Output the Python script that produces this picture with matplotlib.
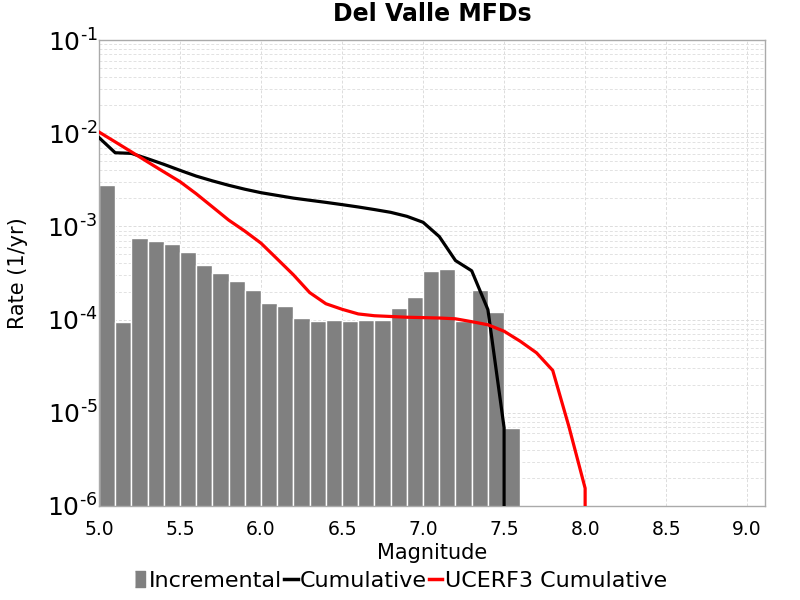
import numpy as np
import matplotlib
matplotlib.use("Agg")
import matplotlib.pyplot as plt
from matplotlib.lines import Line2D
from matplotlib.ticker import LogLocator, FuncFormatter, MultipleLocator

# incremental MFD (bin centres and rates)
mags = [5.05, 5.15, 5.25, 5.35, 5.45, 5.55, 5.65, 5.75, 5.85, 5.95,
        6.05, 6.15, 6.25, 6.35, 6.45, 6.55, 6.65, 6.75, 6.85, 6.95,
        7.05, 7.15, 7.25, 7.35, 7.45, 7.55]
incr = [2.8e-3, 9.4e-5, 7.5e-4, 6.9e-4, 6.4e-4, 5.3e-4, 3.85e-4, 3.18e-4, 2.57e-4, 2.06e-4,
        1.49e-4, 1.39e-4, 1.04e-4, 9.7e-5, 9.8e-5, 9.7e-5, 1.0e-4, 1.0e-4, 1.33e-4, 1.76e-4,
        3.29e-4, 3.48e-4, 9.6e-5, 2.06e-4, 1.21e-4, 6.9e-6]

# cumulative MFD: M >= x, from the incremental bins
cum_mags = [5.0, 5.1, 5.2, 5.3, 5.4, 5.5, 5.6, 5.7, 5.8, 5.9,
            6.0, 6.1, 6.2, 6.3, 6.4, 6.5, 6.6, 6.7, 6.8, 6.9,
            7.0, 7.1, 7.2, 7.3, 7.4, 7.5, 7.6]
cum = list(np.cumsum(incr[::-1])[::-1]) + [0.0]

# UCERF3 cumulative
u3_mags = [5.0, 5.1, 5.2, 5.3, 5.4, 5.5, 5.6, 5.7, 5.8, 5.9,
           6.0, 6.1, 6.2, 6.3, 6.4, 6.5, 6.6, 6.7, 6.8, 6.9,
           7.0, 7.1, 7.2, 7.3, 7.4, 7.5, 7.6, 7.7, 7.8, 7.9, 8.0, 8.1]
u3_cum = [1.03e-2, 8.07e-3, 6.31e-3, 4.92e-3, 3.85e-3, 3.02e-3, 2.24e-3, 1.62e-3, 1.17e-3, 8.9e-4,
          6.6e-4, 4.47e-4, 3.02e-4, 1.95e-4, 1.48e-4, 1.29e-4, 1.15e-4, 1.10e-4, 1.08e-4, 1.06e-4,
          1.05e-4, 1.04e-4, 1.02e-4, 9.5e-5, 8.8e-5, 7.5e-5, 5.85e-5, 4.4e-5, 2.85e-5, 7.1e-6,
          1.55e-6, 0.0]

fig = plt.figure(figsize=(8, 6), dpi=100)
ax = fig.add_axes([0.12375, 0.1567, 0.8325, 0.7766])

ax.bar(mags, incr, width=0.1, color="#808080", edgecolor="white", linewidth=1.0, zorder=2)
ax.plot(cum_mags, cum, color="black", lw=2.3, zorder=3)
ax.plot(u3_mags, u3_cum, color="#ff0000", lw=2.3, zorder=4)

ax.set_yscale("log", nonpositive="clip")
ax.set_ylim(1e-6, 1e-1)
ax.set_xlim(5.0, 9.11)

ax.xaxis.set_major_locator(MultipleLocator(0.5))
ax.xaxis.set_major_formatter(FuncFormatter(lambda v, p: f"{v:.1f}"))
ax.yaxis.set_major_locator(LogLocator(base=10, numticks=10))
ax.yaxis.set_minor_locator(LogLocator(base=10, subs=np.arange(2, 10), numticks=20))
ax.yaxis.set_major_formatter(FuncFormatter(lambda v, p: r"$10^{\text{-}%d}$" % round(-np.log10(v))))
ax.yaxis.set_minor_formatter(FuncFormatter(lambda v, p: ""))

ax.tick_params(axis="x", length=0, pad=10, labelsize=13.5)
ax.tick_params(axis="y", which="both", length=0, pad=1, labelsize=18)

ax.grid(True, which="major", axis="both", color="#dcdcdc", linestyle=(0, (3, 2)), lw=0.7, zorder=0)
ax.grid(True, which="minor", axis="y", color="#e2e2e2", linestyle=(0, (3, 2)), lw=0.7, zorder=0)
ax.set_axisbelow(True)
for s in ax.spines.values():
    s.set_color("#aaaaaa")
    s.set_linewidth(1.0)

ax.set_title("Del Valle MFDs", fontsize=17, fontweight="bold", pad=14)
ax.set_xlabel("Magnitude", fontsize=15, labelpad=3)
ax.set_ylabel("Rate (1/yr)", fontsize=15, labelpad=14)

rect = [(-0.3, -0.5), (0.3, -0.5), (0.3, 0.5), (-0.3, 0.5)]
handles = [
    Line2D([], [], linestyle="none", marker=rect, markersize=12, color="#808080"),
    Line2D([], [], color="black", lw=2.5),
    Line2D([], [], color="#ff0000", lw=2.5),
]
fig.legend(handles, ["Incremental", "Cumulative", "UCERF3 Cumulative"],
           loc="lower center", bbox_to_anchor=(0.5, -0.018), ncol=3, frameon=False,
           fontsize=16, handlelength=0.6, handletextpad=0.1, columnspacing=0.1)

fig.savefig("out.png", dpi=100)
